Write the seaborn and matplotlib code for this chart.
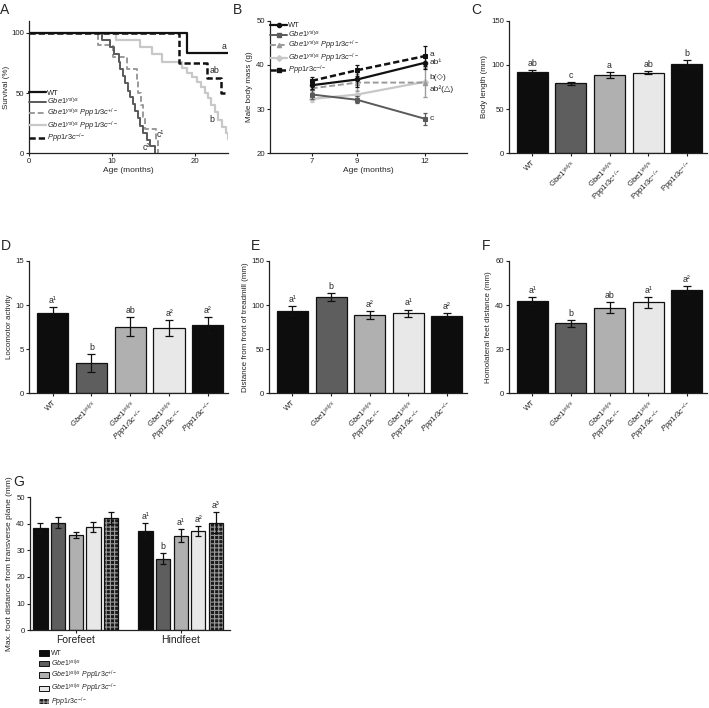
import numpy as np
import pandas as pd
import matplotlib
matplotlib.use('Agg')
import matplotlib.pyplot as plt
import seaborn as sns
from matplotlib.patches import Patch, Rectangle
from matplotlib.lines import Line2D
from matplotlib.container import BarContainer

sns.set_theme(style='ticks')
plt.rcParams['font.family'] = ['Liberation Sans', 'DejaVu Sans']
plt.rcParams['mathtext.fontset'] = 'custom'
plt.rcParams['mathtext.rm'] = 'Liberation Sans'
plt.rcParams['mathtext.it'] = 'Liberation Sans:italic'
plt.rcParams['mathtext.bf'] = 'Liberation Sans:bold'
plt.rcParams['hatch.linewidth'] = 0.8
plt.rcParams['axes.linewidth'] = 0.9

# ---- labels ----
g_it = r'$\mathit{Gbe1}^{\mathit{ys/ys}}$'
ppp_het = r'$\mathit{Ppp1r3c}^{\mathit{+/-}}$'
ppp_ko = r'$\mathit{Ppp1r3c}^{\mathit{-/-}}$'
legend_labels = ['WT', g_it,
                 r'$\mathit{Gbe1}^{\mathit{ys/ys}}\ \mathit{Ppp1r3c}^{\mathit{+/-}}$',
                 r'$\mathit{Gbe1}^{\mathit{ys/ys}}\ \mathit{Ppp1r3c}^{\mathit{-/-}}$',
                 ppp_ko]
tick_it = ['WT', g_it, g_it + '\n' + ppp_het, g_it + '\n' + ppp_ko, ppp_ko]
tick_rm = ['WT', r'$\mathrm{Gbe1}^{\mathrm{ys/ys}}$',
           r'$\mathrm{Gbe1}^{\mathrm{ys/ys}}$' + '\n' + r'$\mathrm{Ppp1r3c}^{+/-}$',
           r'$\mathrm{Gbe1}^{\mathrm{ys/ys}}$' + '\n' + r'$\mathrm{Ppp1r3c}^{-/-}$',
           r'$\mathrm{Ppp1r3c}^{-/-}$']
genotypes = ['WT', 'Gbe1', 'Gbe1 Ppp1r3c+/-', 'Gbe1 Ppp1r3c-/-', 'Ppp1r3c-/-']
bar_colors = ['#0d0d0d', '#5e5e5e', '#b0b0b0', '#e8e8e8', '#0d0d0d']

# ---- A: survival ----
surv_t = {
    'WT': [0, 19.0, 24],
    'Gbe1': [0, 8.8, 9.8, 10.3, 10.8, 11.0, 11.3, 11.6, 11.9, 12.2, 12.5, 12.8, 13.1, 13.4, 13.8, 14.2, 14.6, 15.2],
    'Gbe1 Ppp1r3c+/-': [0, 8.3, 10.1, 11.8, 13.0, 13.2, 13.5, 13.8, 14.0, 15.3, 15.5],
    'Gbe1 Ppp1r3c-/-': [0, 10.5, 13.4, 14.8, 16.0, 18.5, 19.1, 19.7, 20.3, 20.8, 21.2, 21.6, 22.0, 22.4, 22.8, 23.3, 23.7, 24.0],
    'Ppp1r3c-/-': [0, 18.1, 21.5, 23.2, 24],
}
surv_p = {
    'WT': [100, 83.3, 83.3],
    'Gbe1': [100, 94, 88, 82, 76, 70, 64, 58, 52, 47, 41, 35, 29, 23, 17, 11, 6, 0],
    'Gbe1 Ppp1r3c+/-': [100, 90, 80, 70, 60, 50, 40, 30, 20, 10, 0],
    'Gbe1 Ppp1r3c-/-': [100, 94, 88, 82, 76, 71, 67, 63, 59, 55, 50, 46, 40, 34, 28, 22, 17, 12],
    'Ppp1r3c-/-': [100, 75, 62.5, 50, 50],
}
surv_letters = [('a', 23.5, 85), ('ab', 22.4, 65), ('b', 22.0, 24), ('c¹', 15.8, 12), ('c²', 14.2, 1)]

# ---- B: body mass ----
mass_age = [7, 9, 12]
mass = {
    'WT': [35.4, 36.7, 40.5],
    'Gbe1': [33.3, 32.1, 27.8],
    'Gbe1 Ppp1r3c+/-': [34.7, 36.0, 36.0],
    'Gbe1 Ppp1r3c-/-': [32.3, 33.3, 36.2],
    'Ppp1r3c-/-': [36.4, 38.8, 42.0],
}
mass_err = {
    'WT': [0.8, 1.6, 1.5],
    'Gbe1': [1.0, 0.8, 1.4],
    'Gbe1 Ppp1r3c+/-': [0.8, 2.0, 3.2],
    'Gbe1 Ppp1r3c-/-': [0.8, 1.0, 3.4],
    'Ppp1r3c-/-': [0.8, 1.2, 2.2],
}
mass_letters = [('a', 42.4), ('ab¹', 40.6), ('b(◇)', 37.2), ('ab²(△)', 34.6), ('c', 27.9)]

# ---- C-F: bars ----
body_len = [92.5, 79, 88.8, 91.4, 101.5]
body_len_err = [2.0, 2.0, 3.5, 1.5, 3.5]
body_len_let = ['ab', 'c', 'a', 'ab', 'b']

loco = [9.13, 3.4, 7.55, 7.43, 7.77]
loco_err = [0.7, 1.0, 1.1, 0.9, 0.9]
loco_let = ['a¹', 'b', 'ab', 'a²', 'a²']

dist_front = [93.6, 109.4, 89.1, 91.0, 88.0]
dist_front_err = [5, 4.5, 4.5, 4, 3]
dist_front_let = ['a¹', 'b', 'a²', 'a¹', 'a²']

homolat = [42.0, 31.7, 38.9, 41.2, 46.9]
homolat_err = [1.7, 1.7, 2.5, 2.4, 1.8]
homolat_let = ['a¹', 'b', 'ab', 'a¹', 'a²']

# ---- G: foot distance ----
feet = ['Forefeet', 'Hindfeet']
fore = [38.5, 40.4, 35.8, 38.75, 42.0]
fore_err = [1.9, 2.1, 1.2, 1.7, 2.2]
hind = [37.25, 26.9, 35.5, 37.25, 40.4]
hind_err = [3.0, 2.2, 2.5, 2.0, 3.9]
hind_let = ['a¹', 'b', 'a¹', 'a²', 'a³']

W, H = 709, 708
fig = plt.figure(figsize=(W / 100, H / 100), dpi=100)


def box(l, t, r, b):
    return fig.add_axes([l / W, 1 - b / H, (r - l) / W, (b - t) / H])


def style(ax):
    sns.despine(ax=ax)
    ax.tick_params(direction='out', length=2.5, width=0.8, labelsize=5.6, pad=1.2, colors='#222222')
    for s in ax.spines.values():
        s.set_color('#222222')


def panel(ax, letter, dx, dy):
    ax.text(dx, dy, letter, transform=ax.transAxes, fontsize=10, ha='left', va='bottom')


# A
axA = box(29, 20.7, 228, 153.3)
line_style = {
    'WT': dict(color='#111111', ls='-', lw=1.6),
    'Gbe1': dict(color='#5a5a5a', ls='-', lw=1.4),
    'Gbe1 Ppp1r3c+/-': dict(color='#9a9a9a', ls=(0, (3, 1.5)), lw=1.4),
    'Gbe1 Ppp1r3c-/-': dict(color='#c8c8c8', ls='-', lw=1.6),
    'Ppp1r3c-/-': dict(color='#111111', ls=(0, (2.5, 1.2)), lw=1.8),
}
for g in ['Gbe1 Ppp1r3c-/-', 'Gbe1 Ppp1r3c+/-', 'Gbe1', 'Ppp1r3c-/-', 'WT']:
    st = line_style[g]
    sns.lineplot(x=surv_t[g], y=surv_p[g], ax=axA, drawstyle='steps-post', estimator=None,
                 sort=False, color=st['color'], linestyle=st['ls'], linewidth=st['lw'])
for txt, x, y in surv_letters:
    axA.text(x, y, txt, fontsize=6.3, ha='center', va='bottom')
axA.set_xlim(0, 24)
axA.set_ylim(0, 110)
axA.set_xticks([0, 10, 20])
axA.set_yticks([0, 50, 100])
axA.set_xlabel('Age (months)', fontsize=6, labelpad=1)
axA.set_ylabel('Survival (%)', fontsize=5.8, labelpad=1)
style(axA)
hA = [Line2D([], [], color=line_style[g]['color'], ls=line_style[g]['ls'], lw=line_style[g]['lw'])
      for g in genotypes]
axA.legend(hA, legend_labels, loc='upper left', bbox_to_anchor=(0.0, 0.48), frameon=False,
           fontsize=5.4, handlelength=2.3, handletextpad=0.15, labelspacing=-0.1, borderpad=0,
           borderaxespad=0)
panel(axA, 'A', dx=-0.145, dy=1.03)

# B
axB = box(270, 20.7, 467, 153.3)
mk = {'WT': 'o', 'Gbe1': 's', 'Gbe1 Ppp1r3c+/-': '^', 'Gbe1 Ppp1r3c-/-': 'D', 'Ppp1r3c-/-': 's'}
for g in ['Gbe1 Ppp1r3c-/-', 'Gbe1 Ppp1r3c+/-', 'Gbe1', 'WT', 'Ppp1r3c-/-']:
    st = line_style[g]
    axB.errorbar(mass_age, mass[g], yerr=mass_err[g], fmt='none', ecolor=st['color'],
                 elinewidth=0.9, capsize=1.6, capthick=0.9)
    sns.lineplot(x=mass_age, y=mass[g], ax=axB, estimator=None, sort=False, color=st['color'],
                 linestyle=st['ls'], linewidth=st['lw'], marker=mk[g], markersize=3.2,
                 markeredgecolor=st['color'])
for txt, y in mass_letters:
    axB.text(12.2, y, txt, fontsize=6, ha='left', va='center')
axB.set_xlim(5.15, 13.85)
axB.set_ylim(20, 50)
axB.set_xticks(mass_age)
axB.set_yticks([20, 30, 40, 50])
axB.set_xlabel('Age (months)', fontsize=6, labelpad=1)
axB.set_ylabel('Male body mass (g)', fontsize=5.8, labelpad=2)
style(axB)
hB = [Line2D([], [], color=line_style[g]['color'], ls=line_style[g]['ls'], lw=line_style[g]['lw'],
             marker=mk[g], markersize=3) for g in genotypes]
axB.legend(hB, legend_labels, loc='upper left', bbox_to_anchor=(0.0, 0.99), frameon=False,
           fontsize=5.4, handlelength=2.3, handletextpad=0.15, labelspacing=-0.1, borderpad=0,
           borderaxespad=0)
panel(axB, 'B', dx=-0.19, dy=1.03)


def bar_panel(ax, vals, errs, lets, ticks, ylim, yticks, ylabel):
    df = pd.DataFrame({'genotype': genotypes, 'value': vals})
    sns.barplot(data=df, x='genotype', y='value', hue='genotype', palette=bar_colors,
                errorbar=None, width=0.8, edgecolor='#111111', linewidth=0.9, ax=ax, legend=False)
    ax.errorbar(range(len(vals)), vals, yerr=errs, fmt='none', ecolor='#111111',
                elinewidth=0.9, capsize=3, capthick=0.9)
    for i, (v, e, t) in enumerate(zip(vals, errs, lets)):
        ax.annotate(t, (i, v + e), xytext=(0, 1.5), textcoords='offset points',
                    ha='center', va='bottom', fontsize=6.3)
    ax.set_xlim(-0.6, 4.52)
    ax.set_ylim(*ylim)
    ax.set_yticks(yticks)
    ax.set_xticks(range(5))
    ax.set_xticklabels(ticks, rotation=45, ha='right', va='top', rotation_mode='anchor',
                       fontsize=6.3, linespacing=1.05)
    ax.set_xlabel('')
    ax.set_ylabel(ylabel, fontsize=5.8, labelpad=2)
    style(ax)


axC = box(509, 20.7, 707, 153.3)
bar_panel(axC, body_len, body_len_err, body_len_let, tick_rm, (0, 150), [0, 50, 100, 150],
          'Body length (mm)')
panel(axC, 'C', dx=-0.19, dy=1.03)

axD = box(29.3, 261, 228, 393.3)
bar_panel(axD, loco, loco_err, loco_let, tick_it, (0, 15), [0, 5, 10, 15],
          'Locomotor activity')
panel(axD, 'D', dx=-0.145, dy=1.06)

axE = box(269.3, 261, 467, 393.3)
bar_panel(axE, dist_front, dist_front_err, dist_front_let, tick_it, (0, 150), [0, 50, 100, 150],
          'Distance from front of treadmill (mm)')
panel(axE, 'E', dx=-0.095, dy=1.06)

axF = box(509, 261, 707, 393.3)
bar_panel(axF, homolat, homolat_err, homolat_let, tick_it, (0, 60), [0, 20, 40, 60],
          'Homolateral feet distance (mm)')
panel(axF, 'F', dx=-0.135, dy=1.06)

# G
axG = box(30, 497, 230, 630.3)
gdf = pd.DataFrame({
    'foot': np.repeat(feet, len(genotypes)),
    'genotype': genotypes * 2,
    'value': fore + hind,
})
sns.barplot(data=gdf, x='foot', y='value', hue='genotype', hue_order=genotypes,
            palette=bar_colors, errorbar=None, width=0.84, gap=0.19, edgecolor='#111111',
            linewidth=0.9, ax=axG, legend=False)
bar_conts = [c for c in axG.containers if isinstance(c, BarContainer)]
for k, cont in enumerate(bar_conts):
    for j, p in enumerate(cont.patches):
        xc = p.get_x() + p.get_width() / 2
        v = [fore, hind][j][k]
        e = [fore_err, hind_err][j][k]
        axG.errorbar([xc], [v], yerr=[e], fmt='none', ecolor='#111111', elinewidth=0.9,
                     capsize=2.5, capthick=0.9)
        if j == 1:
            axG.annotate(hind_let[k], (xc, v + e), xytext=(0, 1.5), textcoords='offset points',
                         ha='center', va='bottom', fontsize=6.3)
        if k == 4:
            p.set_facecolor('#1a1a1a')
            p.set_edgecolor('#9a9a9a')
            p.set_hatch('++++')
            p.set_linewidth(0)
            axG.add_patch(Rectangle(p.get_xy(), p.get_width(), p.get_height(), fill=False,
                                    ec='#111111', lw=0.9, zorder=p.get_zorder() + 0.1))
axG.set_xlim(-0.436, 1.47)
axG.set_ylim(0, 50)
axG.set_yticks([0, 10, 20, 30, 40, 50])
axG.set_xlabel('')
axG.set_ylabel('Max. foot distance from transverse plane (mm)', fontsize=6.0, labelpad=2)
style(axG)
axG.tick_params(axis='x', labelsize=7.5)
hG = [Patch(facecolor=c, edgecolor='#111111', linewidth=0.7) for c in bar_colors[:4]]
hG.append(Patch(facecolor='#1a1a1a', edgecolor='#9a9a9a', hatch='++++', linewidth=0))
axG.legend(hG, legend_labels, loc='upper left', bbox_to_anchor=(0.045, -0.15), frameon=False,
           fontsize=5.0, handlelength=1.4, handleheight=0.8, handletextpad=0.35,
           labelspacing=0.0, borderpad=0, borderaxespad=0)
panel(axG, 'G', dx=-0.085, dy=1.06)

fig.savefig('out.png', dpi=100)
